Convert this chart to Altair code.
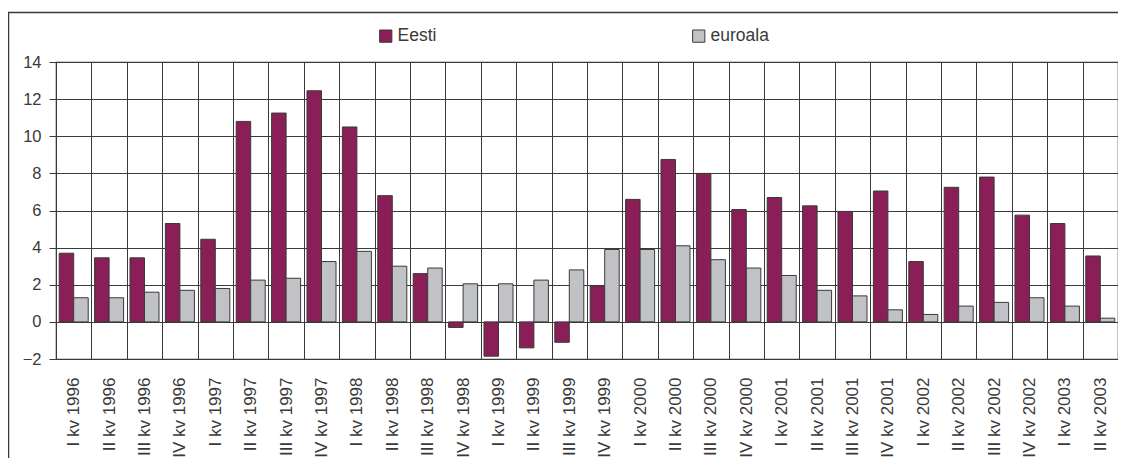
import altair as alt
import pandas as pd

kvartalid = [
    "I kv 1996", "II kv 1996", "III kv 1996", "IV kv 1996",
    "I kv 1997", "II kv 1997", "III kv 1997", "IV kv 1997",
    "I kv 1998", "II kv 1998", "III kv 1998", "IV kv 1998",
    "I kv 1999", "II kv 1999", "III kv 1999", "IV kv 1999",
    "I kv 2000", "II kv 2000", "III kv 2000", "IV kv 2000",
    "I kv 2001", "II kv 2001", "III kv 2001", "IV kv 2001",
    "I kv 2002", "II kv 2002", "III kv 2002", "IV kv 2002",
    "I kv 2003", "II kv 2003",
]
eesti = [3.7, 3.45, 3.45, 5.3, 4.45, 10.8, 11.25, 12.45, 10.5, 6.8,
         2.6, -0.3, -1.85, -1.4, -1.1, 1.95, 6.6, 8.75, 8.0, 6.05,
         6.7, 6.25, 5.95, 7.05, 3.25, 7.25, 7.8, 5.75, 5.3, 3.55]
euroala = [1.3, 1.3, 1.6, 1.7, 1.8, 2.25, 2.35, 3.25, 3.8, 3.0,
           2.9, 2.05, 2.05, 2.25, 2.8, 3.9, 3.9, 4.1, 3.35, 2.9,
           2.5, 1.7, 1.4, 0.65, 0.4, 0.85, 1.05, 1.3, 0.85, 0.2]
seeriad = ["Eesti", "euroala"]
varvid = ["#8A1E57", "#C1C2C6"]
y_ticks = [-2, 0, 2, 4, 6, 8, 10, 12, 14]

rows = []
for k, a, b in zip(kvartalid, eesti, euroala):
    rows.append({"kvartal": k, "seeria": "Eesti", "vaartus": a})
    rows.append({"kvartal": k, "seeria": "euroala", "vaartus": b})
df = pd.DataFrame(rows)

FONT = "Liberation Sans"
TXT = "#3a3a3a"
LINE = "#3a3a3a"

bars = alt.Chart(df).mark_bar(stroke=LINE, strokeWidth=1).encode(
    x=alt.X(
        "kvartal:N", sort=kvartalid,
        scale=alt.Scale(paddingInner=0, paddingOuter=0),
        axis=alt.Axis(
            title=None, labelAngle=270, labelFontSize=17, labelColor=TXT,
            labelPadding=18, ticks=False, domain=False, grid=True,
            tickBand="extent", gridColor=LINE, gridWidth=1, gridOpacity=1,
            labelFont=FONT,
        ),
    ),
    xOffset=alt.XOffset(
        "seeria:N", sort=seeriad,
        scale=alt.Scale(paddingInner=0, paddingOuter=0.22),
    ),
    y=alt.Y(
        "vaartus:Q",
        scale=alt.Scale(domain=[-2, 14], nice=False, zero=False),
        axis=alt.Axis(
            title=None, values=y_ticks, labelFontSize=16.5, labelColor=TXT,
            labelFont=FONT, tickSize=7, tickColor=LINE, labelPadding=8,
            domain=False, grid=True, gridColor=LINE, gridWidth=1, gridOpacity=1,
        ),
    ),
    color=alt.Color(
        "seeria:N",
        scale=alt.Scale(domain=seeriad, range=varvid),
        legend=alt.Legend(
            title=None, orient="none", legendX=321, legendY=-35,
            direction="horizontal", symbolType="square", symbolSize=150,
            symbolStrokeColor=LINE, symbolStrokeWidth=1, labelFontSize=17.5,
            labelFont=FONT, labelColor=TXT, columnPadding=253, labelOffset=3,
            padding=0,
        ),
    ),
)

frame = alt.Chart(pd.DataFrame({"a": [0]})).mark_rect(
    fillOpacity=0, stroke=LINE, strokeWidth=1.5
).encode(
    x=alt.value(-47.5), x2=alt.value(1075),
    y=alt.value(-49.5), y2=alt.value(520),
)

chart = alt.layer(frame, bars).properties(
    width=1062, height=297,
    autosize=alt.AutoSizeParams(type="none"),
    padding={"left": 48, "top": 54, "right": 0, "bottom": 99},
    background="white",
).configure_view(stroke=LINE, strokeWidth=1.2)

chart.save("out.html", embed_options={"renderer": "svg", "actions": False})
